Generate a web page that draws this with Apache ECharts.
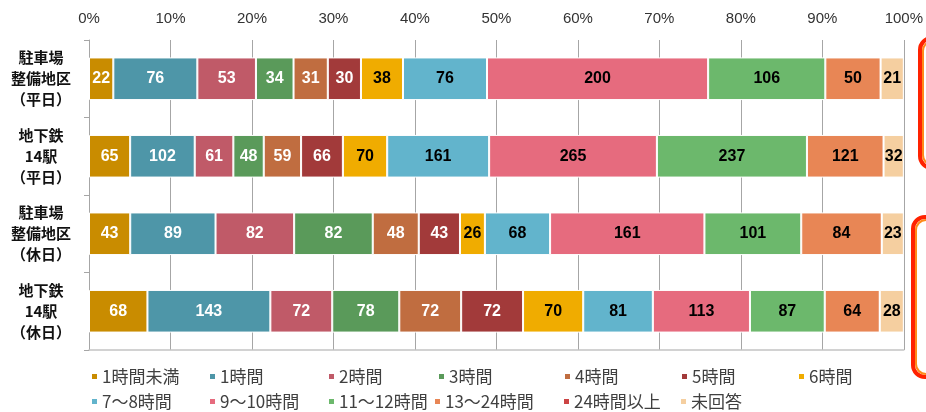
<!DOCTYPE html>
<html><head><meta charset="utf-8">
<script src="https://cdn.jsdelivr.net/npm/echarts@6/dist/echarts.min.js"></script>
<style>html,body{margin:0;padding:0;background:#fff;}#c{width:926px;height:412px;}</style>
</head><body><div id="c"></div>
<script>
const categories = ['駐車場\n整備地区\n（平日）', '地下鉄\n14駅\n（平日）', '駐車場\n整備地区\n（休日）', '地下鉄\n14駅\n（休日）'];
const seriesNames = ['1時間未満','1時間','2時間','3時間','4時間','5時間','6時間','7～8時間','9～10時間','11～12時間','13～24時間','24時間以上','未回答'];
const lessThan1h = [22, 65, 43, 68];
const h1 = [76, 102, 89, 143];
const h2 = [53, 61, 82, 72];
const h3 = [34, 48, 82, 78];
const h4 = [31, 59, 48, 72];
const h5 = [30, 66, 43, 72];
const h6 = [38, 70, 26, 70];
const h7to8 = [76, 161, 68, 81];
const h9to10 = [200, 265, 161, 113];
const h11to12 = [106, 237, 101, 87];
const h13to24 = [50, 121, 84, 64];
const h24plus = [0, 0, 0, 0];
const noAnswer = [21, 32, 23, 28];
const xTicks = [0,10,20,30,40,50,60,70,80,90,100];

const allValues = [lessThan1h,h1,h2,h3,h4,h5,h6,h7to8,h9to10,h11to12,h13to24,h24plus,noAnswer];
const colors = ['#c98c00','#4e96a8','#c05a68','#5a9a5a','#c06d40','#a23a3a','#f0ac00','#62b4cc','#e66b7e','#6cb86c','#e88655','#cc4444','#f5cfa0'];
const labelColors = ['#fff','#fff','#fff','#fff','#fff','#fff','#000','#000','#000','#000','#000','#000','#000'];
const totals = categories.map((_, i) => allValues.reduce((s, arr) => s + arr[i], 0));

const series = seriesNames.map((name, k) => ({
  name, type: 'bar', stack: 'total', barWidth: '55%',
  itemStyle: { color: colors[k], borderColor: '#fff', borderWidth: 1 },
  label: {
    show: true, position: 'inside', color: labelColors[k],
    fontFamily: 'Liberation Sans, Arial, sans-serif', fontWeight: 'bold', fontSize: 16,
    formatter: p => (p.data.raw > 0 ? String(p.data.raw) : '')
  },
  data: allValues[k].map((v, i) => ({ value: v / totals[i] * 100, raw: v }))
}));

const legendPos = [
  [90,368],[208,368],[327,368],[437,368],[563,368],[680,368],[797,368],
  [90,393],[208,393],[327,393],[433,393],[562,393],[679,393]
];
const legends = seriesNames.map((name, k) => ({
  data: [name], left: legendPos[k][0], top: legendPos[k][1],
  icon: 'rect', itemWidth: 7, itemHeight: 7, itemGap: 0, padding: 0,
  selectedMode: false,
  textStyle: { fontSize: 17, color: '#404040', fontFamily: 'Noto Sans CJK JP', padding: [0,0,0,-1] }
}));

const chart = echarts.init(document.getElementById('c'));
chart.setOption({
  animation: false,
  grid: { left: 89, right: 20, top: 40, bottom: 62 },
  legend: legends,
  xAxis: [{
    type: 'value', position: 'top', min: 0, max: 100, interval: 10,
    axisLine: { show: false }, axisTick: { show: false },
    axisLabel: { formatter: v => v + '%', fontSize: 15, color: '#333', margin: 14, fontFamily: 'Liberation Sans, Arial, sans-serif' },
    splitLine: { show: true, lineStyle: { color: '#a6a6a6', width: 1 } }
  }, {
    type: 'value', position: 'bottom', min: 0, max: 100,
    axisLine: { show: true, lineStyle: { color: '#c4c4c4', width: 1.5 } },
    axisTick: { show: false }, axisLabel: { show: false }, splitLine: { show: false }
  }],
  yAxis: {
    type: 'category', inverse: true, data: categories,
    axisLine: { show: true, lineStyle: { color: '#a6a6a6' } },
    axisTick: { show: true, length: 5, lineStyle: { color: '#a6a6a6' } },
    axisLabel: { align: 'center', margin: 48, fontSize: 15, lineHeight: 21, color: '#111', fontWeight: 'bold', fontFamily: 'Noto Sans CJK JP' }
  },
  series,
  graphic: [
    { type: 'rect', shape: { x: 920, y: 38, width: 40, height: 130, r: 12 }, style: { fill: '#fff', stroke: '#ff2200', lineWidth: 4 } },
    { type: 'rect', shape: { x: 923, y: 41, width: 40, height: 124, r: 10 }, style: { fill: 'none', stroke: '#ff8a1a', lineWidth: 2 } },
    { type: 'rect', shape: { x: 913, y: 217, width: 40, height: 160, r: 12 }, style: { fill: '#fff', stroke: '#ff2200', lineWidth: 4 } },
    { type: 'rect', shape: { x: 916, y: 220, width: 40, height: 154, r: 10 }, style: { fill: 'none', stroke: '#ff8a1a', lineWidth: 2 } }
  ]
});
</script></body></html>
